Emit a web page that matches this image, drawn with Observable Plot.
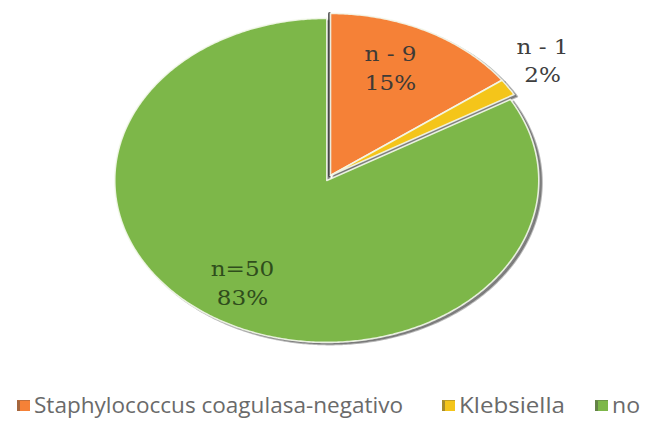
<!DOCTYPE html>
<html>
<head>
<meta charset="utf-8">
<script src="https://cdn.jsdelivr.net/npm/d3@7"></script>
<script src="https://cdn.jsdelivr.net/npm/@observablehq/plot@0.6"></script>
<style>
  html, body { margin: 0; padding: 0; background: #fff; }
  #wrap { position: relative; width: 651px; height: 429px; overflow: hidden; }
  #chart svg { display: block; }
  #legend { position: absolute; left: 0; top: 392px; width: 651px; height: 30px;
            font-family: "Open Sans", Lato, sans-serif; font-size: 21px; color: #6a6a6a; }
  .item { position: absolute; top: 0; height: 26px; display: flex; align-items: center; white-space: nowrap; }
  .item span.txt { display: inline-block; transform-origin: left center; }
  .sw { width: 13px; height: 11px; margin-right: 4px; display: inline-block; box-sizing: border-box;
        border-left: 3px solid rgba(70,70,70,0.45); border-top: 1px solid rgba(70,70,70,0.3); }
</style>
</head>
<body>
<div id="wrap">
  <div id="chart"></div>
  <div id="legend"></div>
</div>
<script>
// ---- data ----
const categories = ["Staphylococcus coagulasa-negativo", "Klebsiella", "no"];
const counts = [9, 1, 50];
const countLabels = ["n - 9", "n - 1", "n=50"];
const percentLabels = ["15%", "2%", "83%"];
const colors = ["#F58137", "#F4C51A", "#7DB749"];

// ---- geometry derived from data ----
const pie = d3.pie().sort(null).value(d => d)(counts);
const explode = [0, 0, 0.035];
const labelRadius = [0.73, 1.233, 0.74];
const labelAngleShift = [-4.2, -2.8, 2.5].map(d => d * Math.PI / 180);
const labelColors = ["#3e3a36", "#3e3e3e", "#2f4d1c"];

const slices = pie.map((p, i) => {
  const mid = (p.startAngle + p.endAngle) / 2;
  const ox = explode[i] * Math.sin(mid), oy = explode[i] * Math.cos(mid);
  const pts = [{x: ox, y: oy}];
  const n = Math.max(4, Math.ceil((p.endAngle - p.startAngle) / 0.01));
  for (let k = 0; k <= n; k++) {
    const a = p.startAngle + (p.endAngle - p.startAngle) * k / n;
    pts.push({x: ox + Math.sin(a), y: oy + Math.cos(a)});
  }
  pts.push({x: ox, y: oy});
  return {i, pts, mid, ox, oy};
});

const labels = slices.map(s => {
  const a = s.mid + labelAngleShift[s.i];
  return {
    x: s.ox + labelRadius[s.i] * Math.sin(a),
    y: s.oy + labelRadius[s.i] * Math.cos(a),
    text: countLabels[s.i] + "\n" + percentLabels[s.i],
    color: labelColors[s.i]
  };
});

const marks = [];
// soft shadow / 3D rim
slices.forEach(s => {
  marks.push(Plot.line(s.pts, {x: "x", y: "y", fill: "#555", stroke: "#707070", strokeWidth: 2,
    fillOpacity: 0.75, strokeOpacity: 0.5, dx: 3, dy: 2}));
});
// dark side edge of the first slice (start radius)
marks.push(Plot.line(slices[0].pts.slice(0, 2), {x: "x", y: "y", stroke: "#3a3a3a", strokeWidth: 3, strokeOpacity: 0.8, dx: -1}));
slices.forEach(s => {
  marks.push(Plot.line(s.pts, {x: "x", y: "y", fill: colors[s.i], stroke: "#f4f8ec", strokeWidth: 1.6,
    strokeOpacity: 0.9}));
});
marks.push(Plot.text(labels, {x: "x", y: "y", text: "text", fill: "color",
  fontFamily: "DejaVu Serif, serif", fontSize: 21, lineHeight: 1.36}));

const chart = Plot.plot({
  width: 651, height: 392,
  margin: 0,
  x: {domain: [-1, 1], range: [118, 542], axis: null},
  y: {domain: [-1, 1], range: [337, 13], axis: null},
  color: {type: "identity"},
  marks
});
document.getElementById("chart").appendChild(chart);

// horizontally stretch the serif labels like the reference
d3.select(chart).selectAll('g[aria-label="text"] text').each(function() {
  const b = this.getBBox();
  const cx = b.x + b.width / 2;
  const t = this.getAttribute("transform") || "";
  this.setAttribute("transform", `${t} translate(${cx},0) scale(1.1,1) translate(${-cx},0)`);
});

// legend
const legendLeft = [17, 442, 595];
const legendTextWidth = [369, 106, 28];
const legend = document.getElementById("legend");
categories.forEach((c, i) => {
  const it = document.createElement("div");
  it.className = "item";
  it.style.left = legendLeft[i] + "px";
  it.innerHTML = `<span class="sw" style="background:${colors[i]}"></span><span class="txt">${c}</span>`;
  legend.appendChild(it);
  const txt = it.querySelector(".txt");
  const w = txt.getBoundingClientRect().width;
  txt.style.transform = `scaleX(${legendTextWidth[i] / w})`;
});
</script>
</body>
</html>
